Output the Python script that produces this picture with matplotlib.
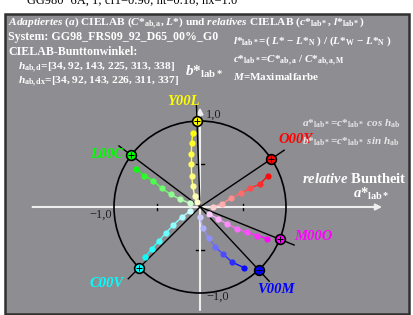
import numpy as np
import matplotlib
matplotlib.use("Agg")
import matplotlib.pyplot as plt
from matplotlib.patches import Rectangle, Circle
from matplotlib.colors import to_rgb

plt.rcParams.update({
    "font.family": "Liberation Serif",
    "mathtext.fontset": "custom",
    "mathtext.rm": "Liberation Serif:bold",
    "mathtext.it": "Liberation Serif:italic:bold",
    "mathtext.bf": "Liberation Serif:bold",
})

W, H = 413, 315
CX, CY, R = 200, 207, 86   # circle centre and radius in pixels

# ── Data ──────────────────────────────────────────────────────────────────────
names   = ["O00Y", "Y00L", "L00C", "C00V", "V00M", "M00O"]
hab_d   = [34, 92, 143, 225, 313, 338]
hab_dx  = [34, 92, 143, 226, 311, 337]
colors  = ["#ff0000", "#ffff00", "#00ff00", "#00ffff", "#0000ff", "#ff00ff"]

# relative (a*, b*) of the measured chains, inner -> outer
chain_a = [
    [0.15, 0.252, 0.36, 0.473, 0.581, 0.698, 0.787],
    [-0.035, -0.062, -0.085, -0.097, -0.101, -0.101, -0.097, -0.085],
    [-0.116, -0.233, -0.341, -0.445, -0.543, -0.647, -0.744],
    [-0.116, -0.213, -0.31, -0.395, -0.477, -0.562, -0.64],
    [0.0, 0.031, 0.105, 0.174, 0.271, 0.372, 0.512],
    [0.105, 0.213, 0.317, 0.426, 0.543, 0.666, 0.783],
]
chain_b = [
    [0.0, 0.035, 0.101, 0.159, 0.217, 0.267, 0.36],
    [0.058, 0.128, 0.244, 0.36, 0.497, 0.613, 0.741, 0.864],
    [0.043, 0.09, 0.148, 0.217, 0.306, 0.364, 0.445],
    [-0.047, -0.12, -0.209, -0.299, -0.392, -0.488, -0.585],
    [-0.12, -0.248, -0.364, -0.462, -0.55, -0.64, -0.706],
    [-0.081, -0.14, -0.198, -0.252, -0.294, -0.334, -0.369],
]

label_pos = [(278, 143), (167, 105), (90, 158), (90, 287), (257, 293), (294, 240)]


def fx(x):
    return x / W


def fy(y):
    return 1 - y / H


fig = plt.figure(figsize=(W / 100, H / 100), dpi=100)
fig.patch.set_facecolor("white")
ax = fig.add_axes([0, 0, 1, 1])
ax.set_xlim(-CX / R, (W - CX) / R)
ax.set_ylim(-(H - CY) / R, CY / R)
ax.axis("off")

# panel
ax.add_patch(Rectangle(((5 - CX) / R, (CY - 314) / R), 404 / R, 300 / R,
                       facecolor="#8e8e92", edgecolor="#303030", lw=1.8, zorder=0))

# axes (white)
ax.annotate("", xy=(2.15, 0), xytext=(-1.98, 0),
            arrowprops=dict(arrowstyle="-|>", color="#eeeeee", lw=1.5, mutation_scale=9))
ax.annotate("", xy=(0, 1.19), xytext=(0, -1.23),
            arrowprops=dict(arrowstyle="-|>", color="#eeeeee", lw=1.5, mutation_scale=9))
for t in (-0.5, 0.5):
    ax.plot([t, t], [-0.04, 0.04], color="black", lw=1)
    ax.plot([-0.05, 0.05], [t, t], color="black", lw=1)

ax.add_patch(Circle((0, 0), 1.0, fill=False, edgecolor="black", lw=1.2, zorder=3))

# hue lines and circle markers
for h, c in zip(hab_d, colors):
    r = np.deg2rad(h)
    ax.plot([0, 1.18 * np.cos(r)], [0, 1.18 * np.sin(r)], color="black", lw=1, zorder=3)
    ax.plot(np.cos(r), np.sin(r), marker="o", ms=7, mfc=c, mec="black", mew=1.2, zorder=5)
    ax.plot(np.cos(r), np.sin(r), marker="+", ms=5, color="black", mew=0.7, zorder=6)

# chains of points, pale near the centre
for a, b, c in zip(chain_a, chain_b, colors):
    base = np.array(to_rgb(c))
    n = len(a)
    cols = [base + (1 - base) * (0.8 * (1 - i / (n - 1))) for i in range(n)]
    cols = [np.clip(cc * 0.95 + 0.05 * np.array([0.9, 0.9, 0.9]), 0, 1) for cc in cols]
    for i in range(n - 1):
        ax.plot(a[i:i + 2], b[i:i + 2], color=cols[i + 1], lw=1, zorder=4)
    for i in range(n):
        ax.plot(a[i], b[i], "o", ms=4.5, color=cols[i], mec="none", zorder=4)

# hue labels
for nm, c, (x, y) in zip(names, colors, label_pos):
    fig.text(fx(x), fy(y), nm, color=c, fontsize=10.5, fontweight="bold",
             fontstyle="italic", va="baseline")

# tick labels
tk = dict(color="#202020", fontsize=9, va="baseline")
fig.text(fx(206), fy(118), "1,0", **tk)
fig.text(fx(89), fy(218), "\u22121,0", **tk)
fig.text(fx(206), fy(300), "\u22121,0", **tk)

# header texts
fig.text(fx(27), fy(5), "GG980\u22126A, 1; cf1=0.90; nt=0.18; nx=1.0",
         color="black", fontsize=9, va="baseline")

wt = dict(color="white", fontsize=8.6, fontweight="bold", va="baseline")
fig.text(fx(8), fy(26),
         r"$\mathit{Adaptiertes\ (a)}$ CIELAB ($\mathit{C}$*$_{\mathrm{ab,a}}$, $\mathit{L}$*) und "
         r"$\mathit{relatives}$ CIELAB ($\mathit{c}$*$_{\mathrm{lab*}}$, $\mathit{l}$*$_{\mathrm{lab*}}$)",
         color="white", fontsize=8.2, fontweight="bold", va="baseline")
fig.text(fx(8), fy(40), "System: GG98_FRS09_92_D65_00%_G0", **wt)
fig.text(fx(8), fy(55), "CIELAB-Bunttonwinkel:", **wt)
fig.text(fx(18), fy(70), r"$\mathit{h}_{\mathrm{ab,d}}$=[34, 92, 143, 225, 313, 338]",
         color="white", fontsize=8.2, fontweight="bold", va="baseline")
fig.text(fx(18), fy(84), r"$\mathit{h}_{\mathrm{ab,dx}}$=[34, 92, 143, 226, 311, 337]",
         color="white", fontsize=8.2, fontweight="bold", va="baseline")

rt = dict(color="white", fontsize=8.0, fontweight="bold", va="baseline")
fig.text(fx(233), fy(44),
         "$\\mathit{l}$*$_{\\mathrm{lab*}}$=( $\\mathit{L}$* \u2212 $\\mathit{L}$*$_{\\mathrm{N}}$ ) / "
         "($\\mathit{L}$*$_{\\mathrm{W}}$ \u2212 $\\mathit{L}$*$_{\\mathrm{N}}$ )", **rt)
fig.text(fx(233), fy(63),
         r"$\mathit{c}$*$_{\mathrm{lab*}}$=$\mathit{C}$*$_{\mathrm{ab,a}}$ / $\mathit{C}$*$_{\mathrm{ab,a,M}}$", **rt)
fig.text(fx(233), fy(80), r"$\mathit{M}$=Maximalfarbe", **rt)
fig.text(fx(185), fy(76), r"$\mathit{b}$*$_{\mathrm{lab*}}$", color="white", fontsize=11,
         fontweight="bold", va="baseline")

lt = dict(color="#e6e6e6", fontsize=8, fontweight="bold", va="baseline")
fig.text(fx(302), fy(127),
         r"$\mathit{a}$*$_{\mathrm{lab*}}$=$\mathit{c}$*$_{\mathrm{lab*}}$ $\mathit{cos\ h}_{\mathrm{ab}}$", **lt)
fig.text(fx(302), fy(145),
         r"$\mathit{b}$*$_{\mathrm{lab*}}$=$\mathit{c}$*$_{\mathrm{lab*}}$ $\mathit{sin\ h}_{\mathrm{ab}}$", **lt)
fig.text(fx(302), fy(183), r"$\mathit{relative}$ Buntheit", color="white", fontsize=10.5,
         fontweight="bold", va="baseline")
fig.text(fx(353), fy(198), r"$\mathit{a}$*$_{\mathrm{lab*}}$", color="white", fontsize=10.5,
         fontweight="bold", va="baseline")

fig.savefig("out.png", dpi=100)
